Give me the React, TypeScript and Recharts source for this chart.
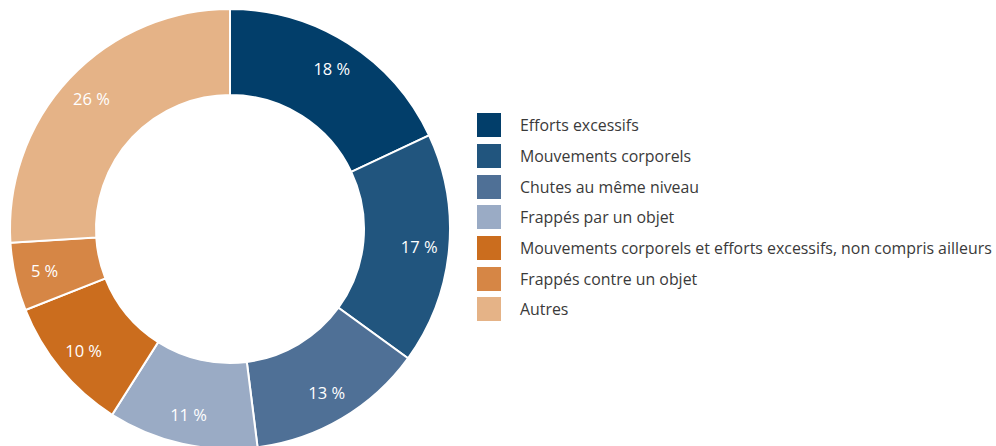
import React from "react";
import { PieChart, Pie, Cell, Legend } from "recharts";

const categories = [
  "Efforts excessifs",
  "Mouvements corporels",
  "Chutes au même niveau",
  "Frappés par un objet",
  "Mouvements corporels et efforts excessifs, non compris ailleurs",
  "Frappés contre un objet",
  "Autres",
];
const values = [18, 17, 13, 11, 10, 5, 26];
const colors = ["#023E6A", "#21557E", "#4F7096", "#9AABC5", "#CB6D1E", "#D68645", "#E5B387"];

const data = categories.map((name, i) => ({ name, value: values[i] }));
const FONT = "'Open Sans', sans-serif";
const RAD = Math.PI / 180;

const renderLabel = (props: any) => {
  const { cx, cy, midAngle, value } = props;
  const r = 190;
  const x = cx + r * Math.cos(-midAngle * RAD);
  const y = cy + r * Math.sin(-midAngle * RAD);
  return (
    <text x={x} y={y} fill="#ffffff" textAnchor="middle" dominantBaseline="central" fontSize={16.5} fontFamily={FONT}>
      {`${value} %`}
    </text>
  );
};

const LegendContent = () => (
  <div style={{ fontFamily: FONT, fontSize: 15.9, color: "#3a3a3a" }}>
    {categories.map((c, i) => (
      <div key={c} style={{ display: "flex", alignItems: "center", height: 30.7 }}>
        <div style={{ width: 24, height: 24, background: colors[i], marginRight: 19, flexShrink: 0 }} />
        <span style={{ whiteSpace: "nowrap" }}>{c}</span>
      </div>
    ))}
  </div>
);

export default function App() {
  return (
    <div style={{ position: "absolute", left: 0, top: 0, background: "#fff" }}>
      <PieChart width={996} height={446} margin={{ top: 0, right: 0, bottom: 0, left: 0 }}>
        <Pie
          data={data}
          dataKey="value"
          nameKey="name"
          cx={230}
          cy={229}
          innerRadius={134}
          outerRadius={220}
          startAngle={90}
          endAngle={-270}
          stroke="#ffffff"
          strokeWidth={2}
          label={renderLabel}
          labelLine={false}
          isAnimationActive={false}
        >
          {data.map((d, i) => (
            <Cell key={d.name} fill={colors[i]} />
          ))}
        </Pie>
        <Legend
          content={<LegendContent />}
          wrapperStyle={{ position: "absolute", left: 477, top: 110, width: 519 }}
        />
      </PieChart>
    </div>
  );
}
